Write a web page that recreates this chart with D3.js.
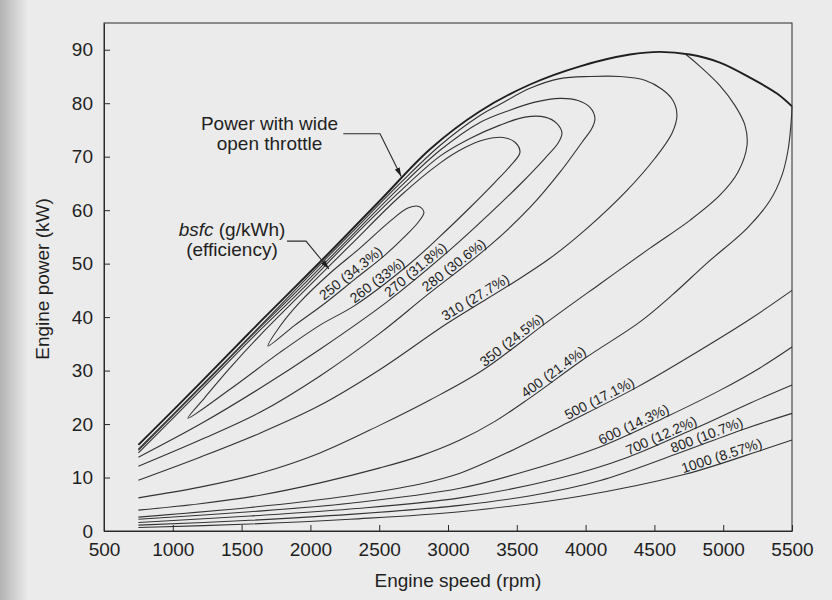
<!DOCTYPE html>
<html>
<head>
<meta charset="utf-8">
<script src="https://d3js.org/d3.v7.min.js"></script>
<style>
  body { margin: 0; background: #ebebeb; }
  svg { display: block; font-family: "Liberation Sans", Arial, Helvetica, sans-serif; }
  .axis text { font-size: 19px; fill: #1f1f1f; }
  .axis path, .axis line { stroke: #2a2a2a; }
  .contour { fill: none; stroke: #333; stroke-width: 1.1; }
  .wot { fill: none; stroke: #1f1f1f; stroke-width: 1.9; }
  .clabel { font-size: 14px; fill: #1f1f1f; }
  .note { font-size: 19px; fill: #1f1f1f; }
  .leader { fill: none; stroke: #2a2a2a; stroke-width: 1.1; }
</style>
</head>
<body>
<div id="vis"></div>
<script>
const speedTicks = [500, 1000, 1500, 2000, 2500, 3000, 3500, 4000, 4500, 5000, 5500];
const powerTicks = [0, 10, 20, 30, 40, 50, 60, 70, 80, 90];

// power with wide open throttle, [rpm, kW]
const wotCurve = [[750,16.1],[1200,27.7],[1634,39.1],[2070,50.3],[2506,61.8],[2869,71.4],[3232,78.5],
  [3596,83.5],[3959,86.9],[4322,89.1],[4540,89.6],[4758,89.1],[4976,87.6],[5194,84.8],[5391,81.8],[5500,79.4]];

// bsfc contours, lower branch first, [rpm, kW]
const bsfc250 = [[1692,34.6],[1888,38.5],[2106,42.6],[2324,47.1],[2542,51.6],[2687,55.1],[2782,57.7],[2825,59.6],
  [2789,60.7],[2709,60.4],[2578,57.9],[2360,52.9],[2142,48.2],[1924,42.8],[1779,38.3]];
const bsfc260 = [[1110,21.1],[1416,26.5],[1779,33.4],[2070,38.5],[2324,42.2],[2709,49.7],[2942,55.1],[3160,60.5],
  [3341,65.2],[3450,68.2],[3523,70.8],[3487,72.7],[3400,73.6],[3269,73.2],[3123,71.7],[2942,68.8],[2651,62.6],
  [2288,53.4],[1924,44.1],[1634,36.6],[1416,30.5],[1234,25.0]];
const bsfc270 = [[750,13.8],[1200,20.0],[1634,26.7],[2070,34.0],[2564,43.0],[3029,52.9],[3305,59.4],[3523,64.8],
  [3705,69.7],[3799,72.5],[3828,74.4],[3792,76.2],[3705,77.4],[3559,77.4],[3378,75.9],[3160,73.4],[2942,70.1],
  [2651,63.5],[2288,54.4],[1924,44.8],[1561,35.7],[1198,26.2],[750,14.6]];
const bsfc280 = [[750,12.1],[1198,17.0],[1634,22.2],[2070,29.0],[2506,37.0],[2847,44.1],[3305,53.4],[3596,60.5],
  [3814,67.1],[3974,72.7],[4046,75.3],[4068,77.2],[4032,79.2],[3945,80.5],[3814,80.9],[3632,80.2],[3450,78.7],
  [3232,76.4],[2942,71.2],[2651,64.3],[2288,54.9],[1924,45.4],[1561,36.2],[1198,26.7],[750,15.1]];
const bsfc310 = [[750,9.5],[1198,13.8],[1634,18.3],[2070,23.5],[2506,30.2],[2993,38.8],[3465,46.3],[3741,51.0],
  [4010,56.6],[4301,63.7],[4504,69.7],[4628,74.4],[4664,77.7],[4635,80.5],[4555,82.6],[4431,84.3],[4250,85.0],
  [4032,85.0],[3814,84.6],[3596,82.8],[3378,79.8],[3232,77.7],[2942,72.1],[2651,65.0],[2288,55.5],[1924,46.0],
  [1561,36.4],[1198,26.9],[750,15.3]];
const bsfc350 = [[750,6.2],[1198,8.2],[1634,10.8],[2070,14.6],[2506,19.8],[2869,24.5],[3254,30.1],[3727,39.2],
  [4104,46.2],[4468,52.9],[4758,58.1],[4976,62.8],[5107,67.1],[5173,72.1],[5158,75.9],[5085,79.6],[4976,83.3],
  [4831,86.9],[4729,89.1]];
const bsfc400 = [[750,3.9],[1198,5.1],[1634,6.7],[2070,9.0],[2506,11.8],[2796,14.0],[3087,17.0],[3341,20.5],
  [3596,24.9],[3995,32.3],[4395,39.1],[4628,44.1],[4882,50.1],[5173,56.6],[5340,61.8],[5427,66.5],[5471,71.2],
  [5492,75.9],[5500,79.4]];
const bsfc500 = [[750,2.6],[1561,4.4],[2288,6.6],[2800,8.8],[3087,10.8],[3476,15.2],[3865,20.2],[4381,27.0],
  [4831,33.8],[5194,39.6],[5500,45.0]];
const bsfc600 = [[750,2.2],[1561,3.6],[2288,5.2],[3087,8.0],[3596,11.4],[4141,16.1],[4599,21.5],[4976,26.3],[5267,30.5],[5500,34.4]];
const bsfc700 = [[750,1.6],[1561,2.8],[2288,4.1],[3087,6.2],[3814,9.9],[4308,13.8],[4831,19.6],[5194,23.9],[5500,27.3]];
const bsfc800 = [[750,1.1],[1561,2.0],[2288,3.1],[3087,4.8],[3600,6.6],[4100,9.4],[4649,14.3],[5144,19.0],[5500,22.0]];
const bsfc1000 = [[750,0.65],[1561,1.3],[2288,2.2],[3087,3.6],[3959,6.5],[4722,10.6],[5289,15.2],[5500,17.0]];

const bsfcLevels = [250, 260, 270, 280, 310, 350, 400, 500, 600, 700, 800, 1000];
const efficiency = ["34.3%", "33%", "31.8%", "30.6%", "27.7%", "24.5%", "21.4%", "17.1%", "14.3%", "12.2%", "10.7%", "8.57%"];
const labelSpeed = [2324, 2517, 2796, 3073, 3225, 3494, 3796, 4123, 4371, 4569, 4896, 5005];
const closedLevels = [250, 260];

// annotations: text anchor and leader line, [rpm, kW]
const wotNoteText = ["Power with wide", "open throttle"];
const wotNoteAt = [1703, 74.9];
const wotLeader = [[2239, 74.3], [2506, 74.3], [2660, 66.3]];
const bsfcNoteAt = [1430, 55.1];
const bsfcLeader = [[1830, 54.2], [1968, 54.2], [2135, 49.0]];

const contourPts = [bsfc250, bsfc260, bsfc270, bsfc280, bsfc310, bsfc350, bsfc400, bsfc500, bsfc600, bsfc700, bsfc800, bsfc1000];

const margin = {top: 23, right: 40, bottom: 69, left: 104};
const width = 832 - margin.left - margin.right;
const height = 600 - margin.top - margin.bottom;

const root = d3.select('#vis')
    .append('svg')
    .attr('width', 832)
    .attr('height', 600);

// page shadow at the binding edge
const grad = root.append('defs').append('linearGradient')
    .attr('id', 'edge').attr('x1', 0).attr('x2', 1);
grad.append('stop').attr('offset', 0).attr('stop-color', '#b3b3b3');
grad.append('stop').attr('offset', 1).attr('stop-color', '#ebebeb');
root.append('rect').attr('width', 28).attr('height', 600).attr('fill', 'url(#edge)');

root.select('defs').append('marker')
    .attr('id', 'arrow')
    .attr('viewBox', '0 0 10 6')
    .attr('refX', 10).attr('refY', 3)
    .attr('markerWidth', 9).attr('markerHeight', 5.5)
    .attr('markerUnits', 'userSpaceOnUse')
    .attr('orient', 'auto')
    .append('path').attr('d', 'M0,0L10,3L0,6Z').attr('fill', '#1f1f1f');

const svg = root.append('g')
    .attr('transform', `translate(${margin.left},${margin.top})`);

const x = d3.scaleLinear().domain([500, 5500]).range([0, width]);
const y = d3.scaleLinear().domain([0, 95]).range([height, 0]);

svg.append('g')
    .attr('class', 'axis')
    .attr('transform', `translate(0,${height})`)
    .call(d3.axisBottom(x).tickValues(speedTicks).tickSize(-6).tickSizeOuter(0).tickPadding(11.5).tickFormat(d3.format('d')));

svg.append('g')
    .attr('class', 'axis')
    .call(d3.axisLeft(y).tickValues(powerTicks).tickSize(-6).tickSizeOuter(0).tickPadding(11));

svg.append('rect')
    .attr('width', width).attr('height', height)
    .attr('fill', 'none').attr('stroke', '#2a2a2a');

const openLine = d3.line().x(d => x(d[0])).y(d => y(d[1])).curve(d3.curveCatmullRom.alpha(0.5));
const closedLine = d3.line().x(d => x(d[0])).y(d => y(d[1])).curve(d3.curveCatmullRomClosed.alpha(0.5));

const contours = bsfcLevels.map((v, i) => ({
  level: v, pts: contourPts[i], eff: efficiency[i], at: labelSpeed[i], closed: closedLevels.includes(v)
}));

const paths = svg.selectAll('.contour')
    .data(contours)
    .join('path')
    .attr('class', 'contour')
    .attr('d', d => d.closed ? closedLine(d.pts) : openLine(d.pts));

svg.append('path')
    .attr('class', 'wot')
    .attr('d', openLine(wotCurve));

// put each label on top of its line, following the line direction
function spot(node, px) {
  const total = node.getTotalLength();
  let len = 0;
  for (let l = 0; l <= total; l += 0.5) {
    if (node.getPointAtLength(l).x >= px) { len = l; break; }
  }
  const p = node.getPointAtLength(len);
  const p0 = node.getPointAtLength(Math.max(0, len - 8));
  const p1 = node.getPointAtLength(Math.min(total, len + 8));
  const a = Math.atan2(p1.y - p0.y, p1.x - p0.x);
  return {x: p.x + 2.5 * Math.sin(a), y: p.y - 2.5 * Math.cos(a), deg: a * 180 / Math.PI};
}

paths.each(function(d) {
  const s = spot(this, x(d.at));
  svg.append('text')
      .attr('class', 'clabel')
      .attr('text-anchor', 'middle')
      .attr('transform', `translate(${s.x},${s.y}) rotate(${s.deg})`)
      .text(`${d.level} (${d.eff})`);
});

// annotations
const wn = svg.append('text')
    .attr('class', 'note')
    .attr('text-anchor', 'middle')
    .attr('x', x(wotNoteAt[0]))
    .attr('y', y(wotNoteAt[1]));
wn.append('tspan').text(wotNoteText[0]);
wn.append('tspan').attr('x', x(wotNoteAt[0])).attr('dy', 20).text(wotNoteText[1]);

const bn = svg.append('text')
    .attr('class', 'note')
    .attr('text-anchor', 'middle')
    .attr('x', x(bsfcNoteAt[0]))
    .attr('y', y(bsfcNoteAt[1]));
bn.append('tspan').attr('font-style', 'italic').text('bsfc');
bn.append('tspan').text(' (g/kWh)');
bn.append('tspan').attr('x', x(bsfcNoteAt[0])).attr('dy', 20).text('(efficiency)');

const leader = d3.line().x(d => x(d[0])).y(d => y(d[1]));
svg.selectAll('.leader')
    .data([wotLeader, bsfcLeader])
    .join('path')
    .attr('class', 'leader')
    .attr('d', leader)
    .attr('marker-end', 'url(#arrow)');

// axis titles
svg.append('text')
    .attr('class', 'note')
    .attr('x', width / 2 + 10)
    .attr('y', height + 56)
    .attr('text-anchor', 'middle')
    .text('Engine speed (rpm)');

svg.append('text')
    .attr('class', 'note')
    .attr('transform', 'rotate(-90)')
    .attr('x', -(height / 2) - 2)
    .attr('y', -55)
    .attr('text-anchor', 'middle')
    .text('Engine power (kW)');
</script>
</body>
</html>
